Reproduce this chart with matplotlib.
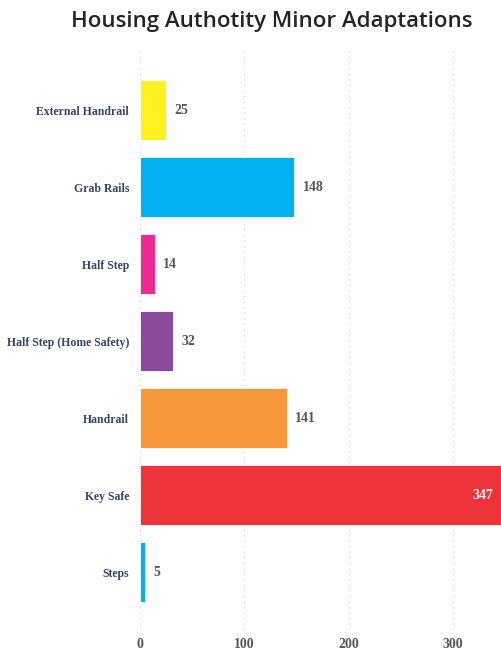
import numpy as np
import matplotlib
matplotlib.use("Agg")
from matplotlib import pyplot as plt

categories = ["External Handrail", "Grab Rails", "Half Step", "Half Step (Home Safety)",
              "Handrail", "Key Safe", "Steps"]
values = [25, 148, 14, 32, 141, 347, 5]
colors = ["#FFF01F", "#00B0F0", "#EC2A8F", "#8A4B9D", "#F7963A", "#EE333A", "#00B0F0"]
xticks = [0, 100, 200, 300]

fig = plt.figure(figsize=(5.02, 6.53), dpi=100)
ax = fig.add_axes([140/502, 1 - 630/653, 1 - 140/502, (630 - 50)/653])

y = np.arange(len(categories))
ax.barh(y, values, height=0.78, color=colors, edgecolor="white", linewidth=0.6, zorder=2)
ax.set_xlim(0, 347)
ax.set_ylim(len(categories) - 0.25, -0.78)

for i, v in enumerate(values):
    if v > 300:
        ax.text(v - 8, i, str(v), ha="right", va="center", color="white",
                fontsize=10, fontweight="bold", family="Liberation Serif")
    else:
        ax.text(v + 8, i, str(v), ha="left", va="center", color="#555555",
                fontsize=10, fontweight="bold", family="Liberation Serif")

ax.set_yticks(y)
ax.set_yticklabels(categories, fontsize=8.5, fontweight="bold", family="Liberation Serif", color="#35456A")
ax.set_xticks(xticks)
ax.set_xticklabels([str(t) for t in xticks], fontsize=10, fontweight="bold",
                   family="Liberation Serif", color="#555555")
ax.tick_params(axis="x", length=0, pad=6)
ax.tick_params(axis="y", length=0, pad=8)
ax.grid(axis="x", linestyle=(0, (1, 4)), color="#cccccc", linewidth=0.8, zorder=0)
for s in ax.spines.values():
    s.set_visible(False)

fig.text(272/502, 1 - 22/653, "Housing Authotity Minor Adaptations", ha="center", va="center",
         fontsize=16, color="#252423", family="Open Sans", fontweight="semibold")

fig.savefig("out.png", dpi=100)
